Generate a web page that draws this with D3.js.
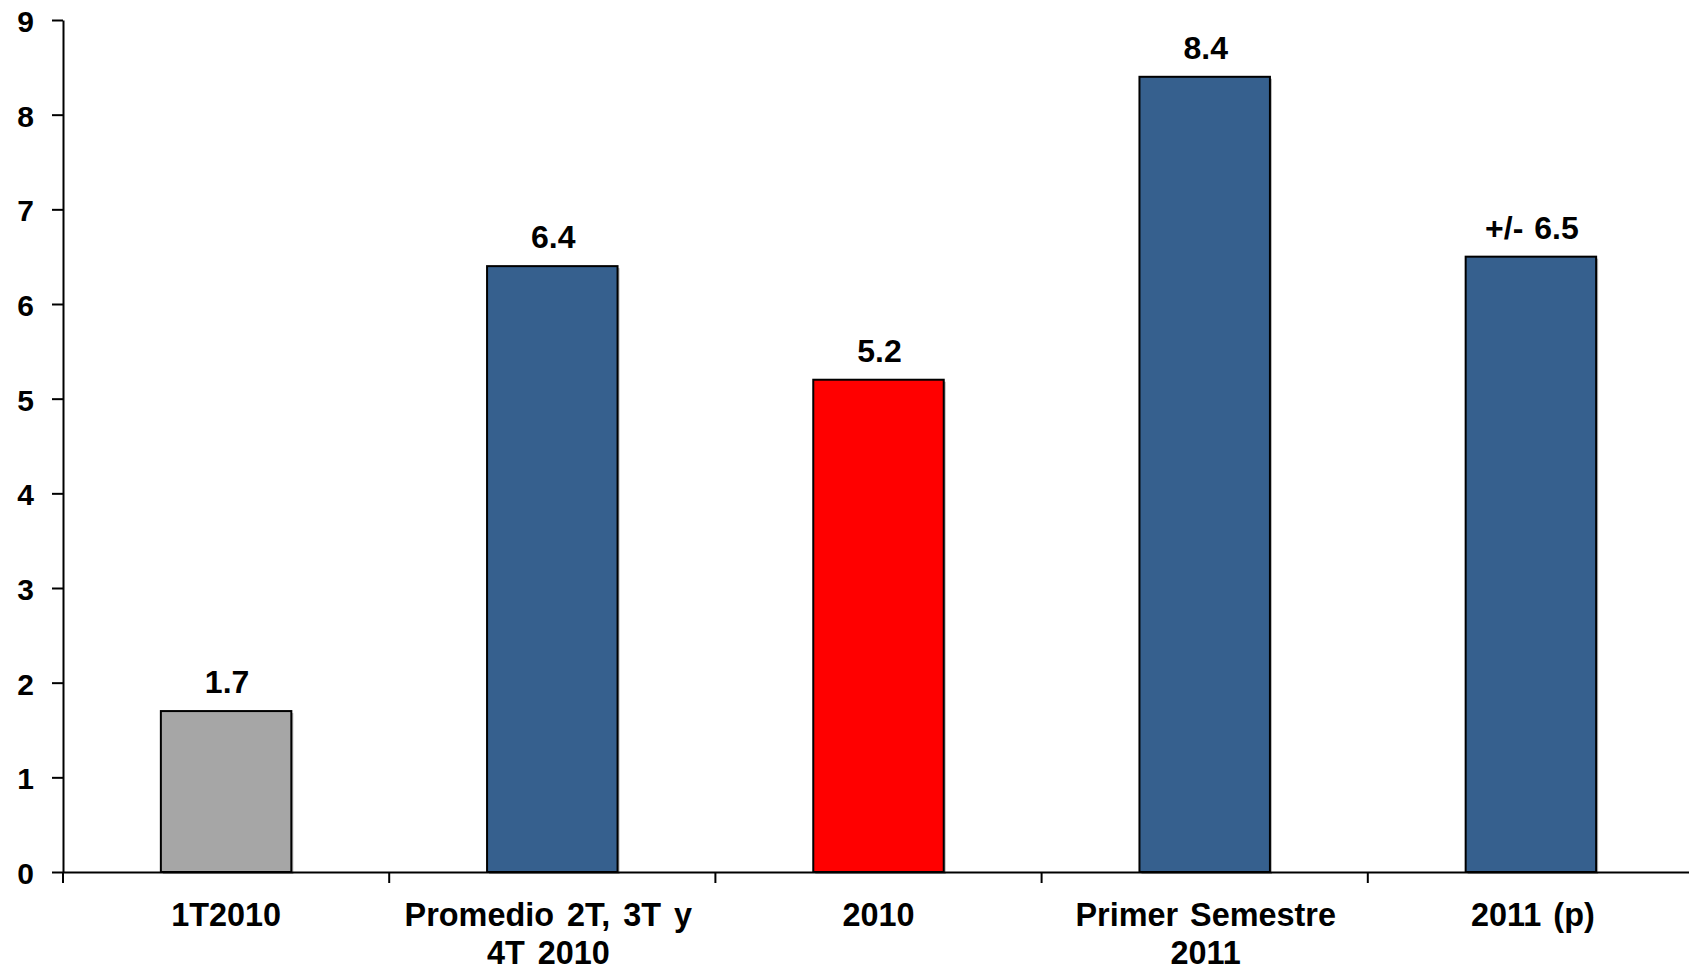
<!DOCTYPE html>
<html>
<head>
<meta charset="utf-8">
<script src="https://cdn.jsdelivr.net/npm/d3@7"></script>
<style>
  html, body { margin: 0; padding: 0; background: #fff; }
  svg { display: block; }
  text { font-family: "Liberation Sans", Arial, sans-serif; font-weight: bold; fill: #000; }
</style>
</head>
<body>
<svg id="chart" width="1689" height="972"></svg>
<script>
const categories = ["1T2010", "Promedio 2T, 3T y 4T 2010", "2010", "Primer Semestre 2011", "2011 (p)"];
const categoryLines = [["1T2010"], ["Promedio 2T, 3T y", "4T 2010"], ["2010"], ["Primer Semestre", "2011"], ["2011 (p)"]];
const values = [1.7, 6.4, 5.2, 8.4, 6.5];
const valueLabels = ["1.7", "6.4", "5.2", "8.4", "+/- 6.5"];
const barColors = ["#A6A6A6", "#36608E", "#FF0000", "#36608E", "#36608E"];
const yTicks = [0, 1, 2, 3, 4, 5, 6, 7, 8, 9];

const svg = d3.select("#chart");
const x0 = 63, x1 = 1694, yTop = 20, yBottom = 872;

const x = d3.scaleBand().domain(categories).range([x0, x1]).paddingInner(0.6).paddingOuter(0.3);
const xb = d3.scaleBand().domain(categories).range([x0, x1]).padding(0);
const y = d3.scaleLinear().domain([0, 9]).range([yBottom, yTop]);

// bar shadows
svg.append("g").selectAll("rect").data(values).join("rect")
  .attr("x", (d, i) => x(categories[i]) + 2)
  .attr("y", d => y(d) + 2)
  .attr("width", x.bandwidth())
  .attr("height", d => y(0) - y(d))
  .attr("fill", "#888").attr("opacity", 0.6);

// bars
svg.append("g").selectAll("rect").data(values).join("rect")
  .attr("x", (d, i) => x(categories[i]))
  .attr("y", d => y(d))
  .attr("width", x.bandwidth())
  .attr("height", d => y(0) - y(d))
  .attr("fill", (d, i) => barColors[i])
  .attr("stroke", "#000").attr("stroke-width", 2);

// value labels
svg.append("g").selectAll("text").data(values).join("text")
  .attr("x", (d, i) => x(categories[i]) + x.bandwidth() / 2 + 1)
  .attr("y", d => y(d) - 18)
  .attr("text-anchor", "middle")
  .attr("font-size", 32)
  .attr("word-spacing", 2)
  .text((d, i) => valueLabels[i]);

// y axis
const yAxis = svg.append("g").attr("transform", `translate(${x0},0)`)
  .call(d3.axisLeft(y).tickValues(yTicks).tickFormat(d3.format("d")).tickSize(11).tickSizeOuter(0).tickPadding(18));
yAxis.select(".domain").attr("stroke", "#000").attr("stroke-width", 2);
yAxis.selectAll(".tick line").attr("stroke", "#000").attr("stroke-width", 2);
yAxis.selectAll(".tick text").attr("font-size", 30).attr("font-family", "Liberation Sans, Arial, sans-serif").attr("font-weight", "bold").attr("dy", "0.38em");

// x axis
const xAxis = svg.append("g").attr("transform", `translate(0,${yBottom})`)
  .call(d3.axisBottom(xb).tickSize(0).tickSizeOuter(0).tickFormat(""));
xAxis.select(".domain").attr("stroke", "#000").attr("stroke-width", 2);
xAxis.selectAll(".tick").remove();
xAxis.append("g").selectAll("line").data(categories).join("line")
  .attr("x1", d => xb(d)).attr("x2", d => xb(d))
  .attr("y1", 0).attr("y2", 11)
  .attr("stroke", "#000").attr("stroke-width", 2);

// category labels
const labelShift = [0, -4, 0, 1, 2];
const lab = svg.append("g").selectAll("text").data(categories).join("text")
  .attr("text-anchor", "middle")
  .attr("font-size", 32.4)
  .attr("word-spacing", (d, i) => i === 1 ? 4 : 3)
  .attr("transform", (d, i) => `translate(${xb(d) + xb.bandwidth() / 2 + labelShift[i]},926)`);
lab.selectAll("tspan").data((d, i) => categoryLines[i]).join("tspan")
  .attr("x", 0).attr("y", (d, j) => j * 38)
  .text(d => d);
</script>
</body>
</html>
